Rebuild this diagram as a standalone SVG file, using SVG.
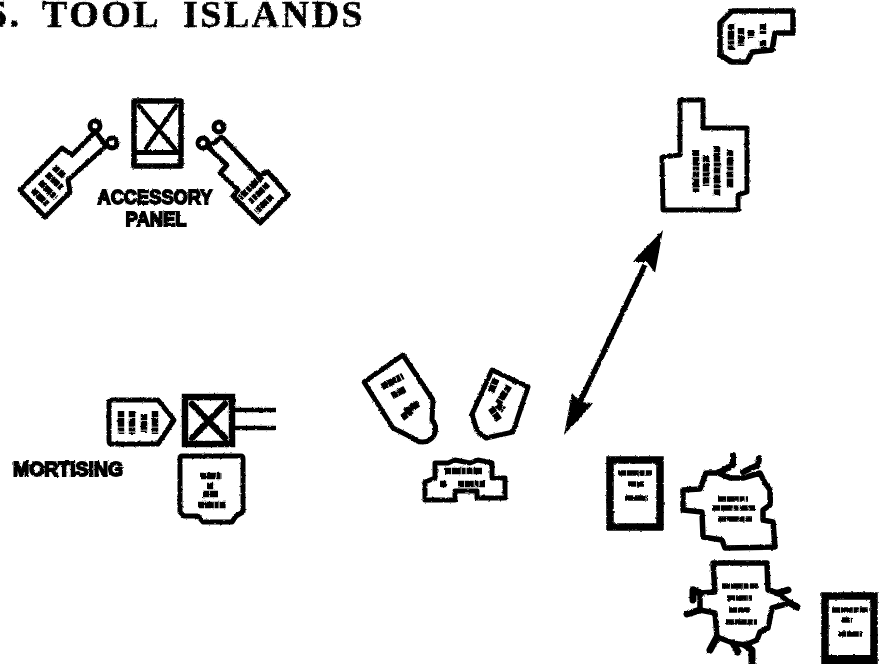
<svg xmlns="http://www.w3.org/2000/svg" width="894" height="664" viewBox="0 0 894 664">
<style>
.o{fill:#fff;stroke:#000;stroke-width:5;stroke-linejoin:round;stroke-linecap:round}
.t{fill:none;stroke:#000;stroke-width:6.5;stroke-linecap:butt;stroke-dasharray:6 .8 9 .8 4 1}
.s{fill:none;stroke:#000;stroke-width:5.5;stroke-linecap:butt;stroke-dasharray:8 .8 12 .8 5 1.2}
.k{fill:#000;stroke:none}
.l{fill:#000;stroke:#000;stroke-width:1.8;font-family:"Liberation Sans",Arial,sans-serif;font-weight:700;font-size:21px;text-anchor:middle}
.b{fill:none;stroke:#000;stroke-width:4.5;stroke-linecap:round;stroke-linejoin:round}
</style>
<defs>
<filter id="rough" x="-2%" y="-2%" width="104%" height="104%" filterUnits="objectBoundingBox">
<feTurbulence type="fractalNoise" baseFrequency=".35" numOctaves="2" seed="4"/>
<feDisplacementMap in="SourceGraphic" scale="2.6" xChannelSelector="R" yChannelSelector="G"/>
</filter>
</defs>
<rect width="894" height="664" fill="#fff"/>
<g filter="url(#rough)">
<text id="title" y="27" font-family="'Liberation Serif','Times New Roman',serif" font-weight="700" font-size="38" letter-spacing="2.5" stroke="#000" stroke-width=".6" fill="#000"><tspan x="-12">5. </tspan><tspan x="42">TOOL </tspan><tspan x="183">ISLANDS</tspan></text>

<g id="accessory-panel">
<rect class="o" x="134" y="101" width="47" height="65" style="stroke-width:5.5"/>
<path class="b" d="M139 106L176 150M176 106L146 148"/>
<rect class="k" x="134" y="150" width="47" height="5"/>
</g>
<g id="label-accessory">
<text class="l" x="155" y="204" textLength="115" lengthAdjust="spacingAndGlyphs">ACCESSORY</text>
<text class="l" x="156" y="226" textLength="61" lengthAdjust="spacingAndGlyphs">PANEL</text>
</g>
<g id="tag-left">
<path class="o" d="M20 190L62 148L72 155L92 135L95 131L106 146L68 180L70 192L45 217Z"/>
<circle class="o" cx="95" cy="126" r="5"/><circle class="o" cx="112" cy="143" r="5"/>
<path class="t" d="M33 190L48 205M40 182L56 198M47 174L62 188M54 167L64 176"/>
</g>
<g id="tag-right">
<path class="o" d="M222 137L258 175L268 172L288 195L260 223L233 196L238 190L220 173L227 165L208 147Z"/>
<circle class="o" cx="219" cy="127" r="5"/><circle class="o" cx="203" cy="143" r="5"/>
<path class="t" d="M262 176L240 198M268 184L250 202M272 196L256 212"/>
</g>

<g id="mortising-head">
<rect x="185" y="397" width="47" height="47" fill="#fff" stroke="#000" stroke-width="6.5"/>
<path class="b" d="M192 404L225 438M225 404L192 438" style="stroke-width:6.5"/>
<path d="M234 410H276M234 428H276" fill="none" stroke="#000" stroke-width="4.5"/>
</g>
<g id="mortising-tag">
<path class="o" d="M112 400H158L174 420L158 444H112Q109 444 109 441V403Q109 400 112 400Z"/>
<path class="t" d="M121 411V434M132 411V434M144 414V432M155 411V434"/>
</g>
<g id="mortising-box">
<path class="o" d="M182 456H241Q243 456 243 459V512L236 516L232 522H203L198 516H184L180 512V459Q180 456 182 456Z"/>
<path class="t" d="M200 476H222M207 486H214M203 494H218M198 505H226"/>
</g>
<text id="label-mortising" class="l" x="68" y="476" textLength="110" lengthAdjust="spacingAndGlyphs">MORTISING</text>

<g id="center-tag-left">
<path class="o" d="M364 382L403 355L433 400L432 420A12 12 0 1 1 413 438L393 428Z"/>
<path class="t" d="M382 387L403 376M392 396L405 389M405 412L419 403M402 418L412 410" style="stroke-width:7"/>
</g>
<g id="center-tag-right">
<path class="o" d="M492 370L528 387L513 432L486 438L477 431L472 414Z"/>
<path class="t" d="M496 379L491 392M509 386L498 404M491 408L499 420M497 405L504 410" style="stroke-width:7"/>
</g>
<g id="center-box">
<path class="o" d="M435 463H448L455 460L470 463L478 460L492 463V478H505V498H477V491H455V500H425V482L435 478Z"/>
<path class="t" d="M445 471H482M440 484H447M458 484H485"/>
</g>

<g id="connectors">
<path d="M645 265L580 402" fill="none" stroke="#000" stroke-width="5.5"/>
<path class="k" d="M663 230L655 273L647 262L633 262L636 258Z" stroke="#000"/>
<path class="k" d="M564 435L572 393L580 402L593 403L590 407Z" stroke="#000"/>
</g>

<g id="top-right-box">
<path class="o" d="M720 23L732 11H793V33H775L772 50L752 52L747 62L732 62L720 55Z" style="stroke-width:5.5"/>
<path class="t" d="M731 24V50M741 28V46M751 30V38M763 24V34M763 40V48"/>
</g>
<g id="large-box">
<path class="o" d="M680 100H703V128H747V192L738 195V210H663L662 157L680 155Z"/>
<path class="t" d="M696 150V192M706 156V186M717 146V196M730 150V188"/>
</g>

<g id="book-left">
<rect x="610" y="460" width="50" height="67" fill="#fff" stroke="#000" stroke-width="7.5"/>
<path class="s" d="M618 473H652M628 484H644M625 498H648"/>
</g>
<g id="upper-machine">
<path class="o" d="M683 490L700 489L706 473H718L730 478H743L760 473L765 483L770 490V505L763 510V520L773 522L775 547L725 548L722 540L703 537L702 512L683 510Z" style="stroke-width:5.5"/>
<path class="o" d="M718 473L733 465V455M743 472L758 465L759 458" style="fill:none;stroke-width:6"/>
<path class="s" d="M718 499H748M712 508H755M718 519H752"/>
</g>
<g id="lower-machine">
<path class="o" d="M713 563H767L768 590L778 593L790 603L772 608L768 628L760 632L757 640L745 645L733 643L717 637L715 613L700 610V593L715 592Z" style="stroke-width:5.5"/>
<path class="o" d="M700 593L693 590V600M700 610L687 614M717 637L710 650M745 645L752 650V664M733 643L738 652M778 593L788 590M790 603L797 607" style="fill:none;stroke-width:7"/>
<path class="s" d="M722 586H758M727 598H752M729 610H750M726 622H757"/>
</g>
<g id="book-right">
<rect x="825" y="596" width="49" height="66" fill="#fff" stroke="#000" stroke-width="7.5"/>
<rect class="k" x="822" y="655" width="55" height="9"/>
<path class="s" d="M832 610H868M842 620H852M838 634H862"/>
</g>
</g>
</svg>
